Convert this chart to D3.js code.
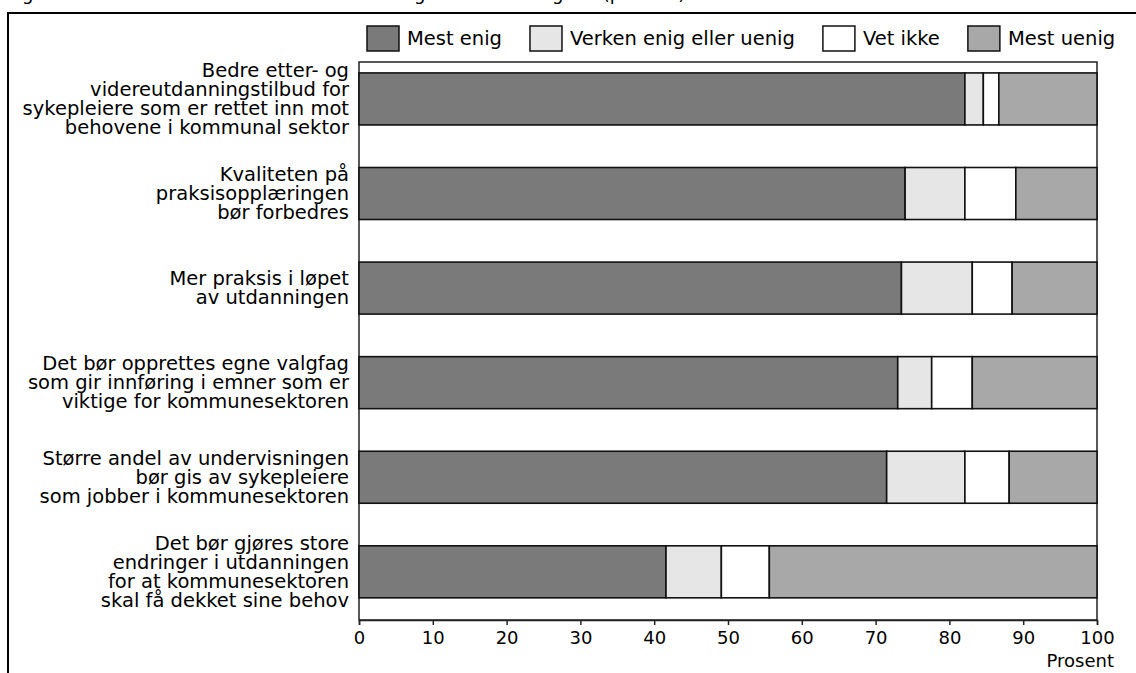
<!DOCTYPE html>
<html>
<head>
<meta charset="utf-8">
<script src="https://cdn.jsdelivr.net/npm/d3@7"></script>
<style>
  body { margin: 0; background: #fff; }
  svg text { font-family: "DejaVu Sans", sans-serif; fill: #000; }
</style>
</head>
<body>
<svg id="chart" width="1136" height="673"></svg>
<script>
// statements, one row per bar (lines as printed)
let statements = [
    ["Bedre etter- og", "videreutdanningstilbud for", "sykepleiere som er rettet inn mot", "behovene i kommunal sektor"],
    ["Kvaliteten på", "praksisopplæringen", "bør forbedres"],
    ["Mer praksis i løpet", "av utdanningen"],
    ["Det bør opprettes egne valgfag", "som gir innføring i emner som er", "viktige for kommunesektoren"],
    ["Større andel av undervisningen", "bør gis av sykepleiere", "som jobber i kommunesektoren"],
    ["Det bør gjøres store", "endringer i utdanningen", "for at kommunesektoren", "skal få dekket sine behov"]
];
let answerKeys = ["Mest enig", "Verken enig eller uenig", "Vet ikke", "Mest uenig"];
let mestEnig = [82.1, 74.0, 73.5, 73.0, 71.5, 41.6];
let verken = [2.5, 8.1, 9.6, 4.6, 10.6, 7.5];
let vetIkke = [2.1, 6.9, 5.4, 5.5, 6.0, 6.5];
let mestUenig = [13.3, 11.0, 11.5, 16.9, 11.9, 44.4];
let xTicks = [0, 10, 20, 30, 40, 50, 60, 70, 80, 90, 100];
let titleText = "Figur 5.2 Kommunene ble bedt om å ta stilling til ulike forslagene (prosent)";

let fillColors = ["#7a7a7a", "#e6e6e6", "#ffffff", "#a8a8a8"];
let fontSize = 19.5;
let tickFontSize = 18;
let lineHeight = 19;

let svg = d3.select("#chart");

let rows = statements.map(function(s, i) {
    return {
        id: i,
        "Mest enig": mestEnig[i],
        "Verken enig eller uenig": verken[i],
        "Vet ikke": vetIkke[i],
        "Mest uenig": mestUenig[i]
    };
});

let xScale = d3.scaleLinear()
    .domain([0, 100])
    .range([359, 1097]);

let yScale = d3.scaleBand()
    .domain(rows.map(function(d) { return d.id; }))
    .range([62, 620])
    .paddingInner(0.45)
    .paddingOuter(0.175)
    .align(0.33);

let colorScale = d3.scaleOrdinal()
    .domain(answerKeys)
    .range(fillColors);

// cut-off title above the frame
svg.append("text")
    .attr("x", 8)
    .attr("y", 0)
    .style("font-size", 18)
    .text(titleText);

// outer frame (left and top only)
svg.append("path")
    .attr("d", "M8,673 L8,13 L1136,13")
    .attr("fill", "none")
    .attr("stroke", "#000")
    .attr("stroke-width", 2);

// plot frame
svg.append("rect")
    .attr("x", xScale(0))
    .attr("y", 62)
    .attr("width", xScale(100) - xScale(0))
    .attr("height", 620 - 62)
    .attr("fill", "none")
    .attr("stroke", "#222")
    .attr("stroke-width", 1.5);

// stacked bars
let stacked = d3.stack().keys(answerKeys)(rows);

svg.selectAll(".layer")
    .data(stacked)
    .enter()
    .append("g")
    .attr("class", "layer")
    .attr("fill", function(d) { return colorScale(d.key); })
    .selectAll("rect")
    .data(function(d) { return d; })
    .enter()
    .append("rect")
    .attr("x", function(d) { return xScale(d[0]); })
    .attr("y", function(d) { return yScale(d.data.id); })
    .attr("width", function(d) { return xScale(d[1]) - xScale(d[0]); })
    .attr("height", yScale.bandwidth())
    .attr("stroke", "#111")
    .attr("stroke-width", 1.6);

// statement labels
statements.forEach(function(lines, i) {
    let cy = yScale(i) + yScale.bandwidth() / 2;
    let top = cy - (lines.length - 1) * lineHeight / 2;
    let t = svg.append("text")
        .attr("text-anchor", "end")
        .style("font-size", fontSize);
    lines.forEach(function(line, j) {
        t.append("tspan")
            .attr("x", 349)
            .attr("y", top + j * lineHeight + 6.5)
            .text(line);
    });
});

// x axis
let xAxis = svg.append("g")
    .attr("transform", "translate(0,620)")
    .call(d3.axisBottom(xScale).tickValues(xTicks).tickSize(5).tickPadding(6).tickFormat(d3.format("d")));
xAxis.select(".domain").attr("stroke", "#222").attr("stroke-width", 1.5);
xAxis.selectAll(".tick line").attr("stroke", "#222").attr("stroke-width", 1.5);
xAxis.selectAll("text")
    .style("font-family", "'DejaVu Sans', sans-serif")
    .style("font-size", tickFontSize)
    .attr("fill", "#000");

svg.append("text")
    .attr("x", 1114)
    .attr("y", 667)
    .attr("text-anchor", "end")
    .style("font-size", tickFontSize)
    .text("Prosent");

// legend
let legend = svg.append("g").attr("class", "legend");
let lx = 367;
answerKeys.forEach(function(key) {
    legend.append("rect")
        .attr("x", lx)
        .attr("y", 26)
        .attr("width", 32)
        .attr("height", 25)
        .attr("fill", colorScale(key))
        .attr("stroke", "#111")
        .attr("stroke-width", 1.5);
    let t = legend.append("text")
        .attr("x", lx + 40)
        .attr("y", 45)
        .style("font-size", fontSize)
        .text(key);
    lx = lx + 40 + t.node().getComputedTextLength() + 28;
});
</script>
</body>
</html>
